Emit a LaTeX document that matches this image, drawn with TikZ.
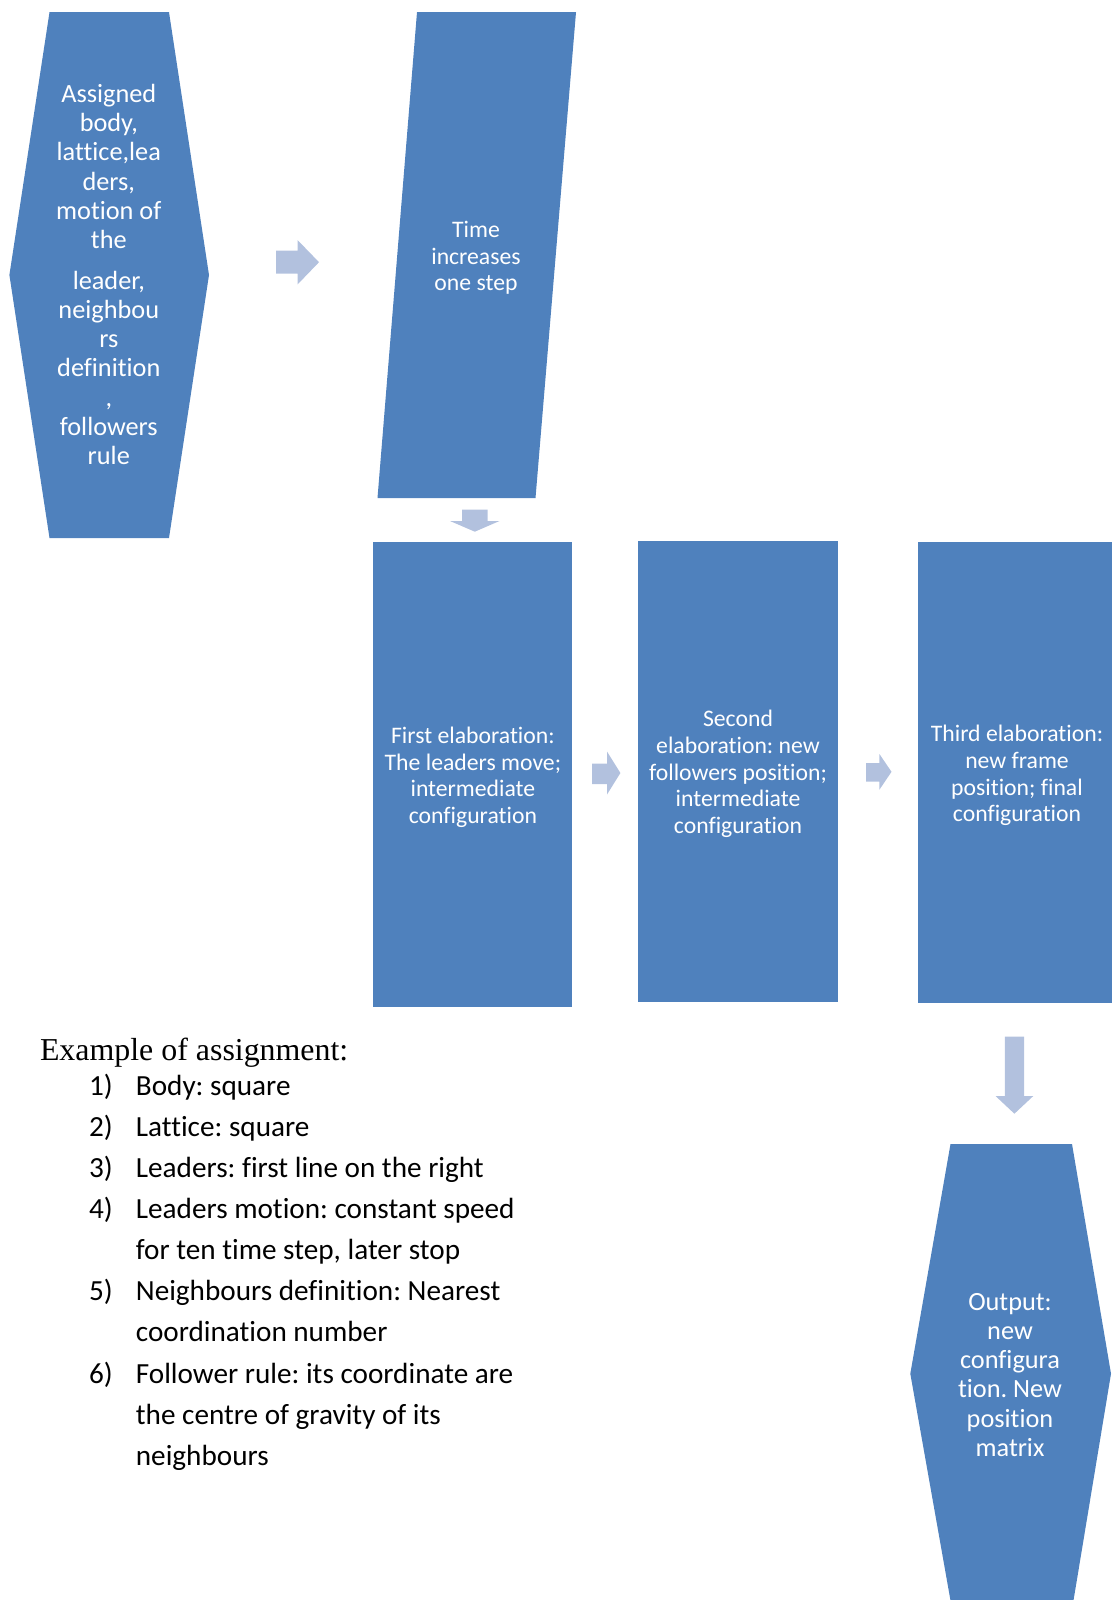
\documentclass[tikz,border=0pt]{standalone}
\usepackage{fontspec}
\setmainfont{Liberation Serif}
\newfontfamily\carl[Ligatures=NoCommon]{Carlito}
\definecolor{boxblue}{HTML}{4F81BD}
\definecolor{arrowblue}{HTML}{B2C1DE}
\begin{document}
\frenchspacing
\begin{tikzpicture}[x=1pt,y=-1pt,
  boxfill/.style={fill=boxblue},
  arrowfill/.style={fill=arrowblue},
  boxtext/.style={text=white, align=center, inner sep=0pt, font=\carl\frenchspacing\fontsize{23.7}{26.6}\selectfont},
  hextext/.style={text=white, align=center, inner sep=0pt, font=\carl\frenchspacing\fontsize{26.3}{29.2}\selectfont}]
\useasboundingbox (0,0) rectangle (1112,1600);
% input hexagon
\fill[boxfill] (49.5,12.2) -- (169,12.2) -- (209,275) -- (169,538) -- (49.5,538) -- (9.4,275) -- cycle;
\node[hextext] (assign) at (108.8,274.5) {Assigned\\body,\\lattice,lea\\ders,\\motion of\\the\\[11.5pt]leader,\\neighbou\\rs\\definition\\,\\followers\\rule};
% time parallelogram
\fill[boxfill] (417,12.2) -- (576,12.2) -- (535.5,498) -- (377.5,498) -- cycle;
\node[boxtext] (time) at (476,258) {Time\\increases\\one step};
% three elaboration boxes
\fill[boxfill] (373.4,541.5) rectangle (572.4,1006.5);
\node[boxtext] (first) at (472.9,777.4) {First elaboration:\\The leaders move;\\intermediate\\configuration};
\fill[boxfill] (638,540.5) rectangle (838,1001.5);
\node[boxtext] (second) at (738,773.9) {Second\\elaboration: new\\followers position;\\intermediate\\configuration};
\fill[boxfill] (918,542) rectangle (1112,1002.5);
\node[boxtext] (third) at (1017,775.6) {Third elaboration:\\new frame\\position; final\\configuration};
% output hexagon
\fill[boxfill] (950.5,1144) -- (1072,1144) -- (1111,1373.7) -- (1073,1603.4) -- (951,1603.4) -- (910.3,1373.7) -- cycle;
\node[hextext] (output) at (1010,1374.8) {Output:\\new\\configura\\tion. New\\position\\matrix};
% block arrows
\fill[arrowfill] (276,250.5) -- (297.5,250.5) -- (297.5,240) -- (319,262.2) -- (297.5,284.5) -- (297.5,273.5) -- (276,273.5) -- cycle;
\fill[arrowfill] (462,509.5) -- (487.5,509.5) -- (487.5,521) -- (499.5,521) -- (474.8,531.7) -- (450,521) -- (462,521) -- cycle;
\fill[arrowfill] (592,763.5) -- (607,763.5) -- (607,751.5) -- (620.4,773) -- (607,794.5) -- (607,784) -- (592,784) -- cycle;
\fill[arrowfill] (866,763) -- (879.4,763) -- (879.4,754) -- (891.5,771.8) -- (879.4,789.7) -- (879.4,781.7) -- (866,781.7) -- cycle;
\fill[arrowfill] (1004.8,1036.7) -- (1024,1036.7) -- (1024,1096) -- (1033.3,1096) -- (1014.4,1113.7) -- (995.5,1096) -- (1004.8,1096) -- cycle;
% example text
\node[anchor=base west, inner sep=0pt, font=\fontsize{31.9}{38}\selectfont] (example) at (39.8,1060.3) {Example of assignment:};
\node[anchor=base west, inner sep=0pt, font=\carl\frenchspacing\fontsize{29.2}{41.1}\selectfont] (list) at (88.8,1095.3) {\begin{tabular}[t]{@{}p{46.9pt}@{}l@{}}
1) & Body: square\\
2) & Lattice: square\\
3) & Leaders: first line on the right\\
4) & Leaders motion: constant speed\\
   & for ten time step, later stop\\
5) & Neighbours definition: Nearest\\
   & coordination number\\
6) & Follower rule: its coordinate are\\
   & the centre of gravity of its\\
   & neighbours
\end{tabular}};
\end{tikzpicture}
\end{document}
